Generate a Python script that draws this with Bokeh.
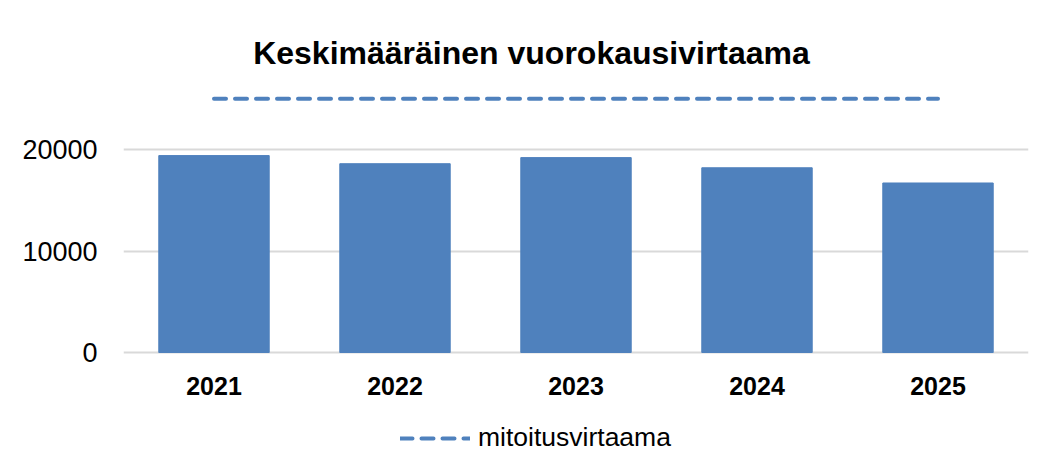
from bokeh.plotting import figure
from bokeh.models import Range1d, FactorRange, FixedTicker, Label, Legend, LegendItem, NumeralTickFormatter
from bokeh.core.properties import value
from bokeh.embed import file_html
from bokeh.resources import INLINE

years = ["2021", "2022", "2023", "2024", "2025"]
flow = [19400, 18600, 19200, 18200, 16700]
design_flow = [25000, 25000, 25000, 25000, 25000]
y_ticks = [0, 10000, 20000]
title_text = "Keskimääräinen vuorokausivirtaama"
legend_label = "mitoitusvirtaama"

BLUE = "#4F81BD"
FONT = "Liberation Sans"

px_per_unit = 101.5 / 10000.0
frame_left, frame_right = 123, 1028
frame_top, zero_y, frame_bottom = 0, 352, 465

p = figure(
    width=1044, height=465,
    x_range=FactorRange(*years),
    y_range=Range1d(-(frame_bottom - zero_y) / px_per_unit, (zero_y - frame_top) / px_per_unit),
    output_backend="svg", toolbar_location=None,
    min_border_left=frame_left, min_border_right=1044 - frame_right,
    min_border_top=0, min_border_bottom=0,
)
p.outline_line_color = None
p.background_fill_color = "white"
p.border_fill_color = "white"

p.vbar(x=years, top=flow, width=0.61, fill_color=BLUE, line_color=BLUE)
r_line = p.line(x=years, y=design_flow, line_color=BLUE, line_width=4,
                line_dash="12 9", line_cap="round")

# category labels below the zero line
p.text(x=years, y=[-(385 - zero_y) / px_per_unit] * len(years), text=years,
       text_font=value(FONT), text_font_size="25px", text_font_style="bold",
       text_align="center", text_baseline="middle", text_color="#000000")

p.xaxis.visible = False

p.yaxis.ticker = FixedTicker(ticks=y_ticks)
p.yaxis.formatter = NumeralTickFormatter(format="0")
p.yaxis.axis_line_color = None
p.yaxis.major_tick_line_color = None
p.yaxis.minor_tick_line_color = None
p.yaxis.major_label_text_font = FONT
p.yaxis.major_label_text_font_size = "27px"
p.yaxis.major_label_text_color = "#000000"
p.yaxis.major_label_standoff = 20

p.xgrid.grid_line_color = None
p.ygrid.ticker = FixedTicker(ticks=y_ticks)
p.ygrid.grid_line_color = "#d9d9d9"
p.ygrid.grid_line_width = 2

title = Label(x=(531 - frame_left) / (frame_right - frame_left) * 5, y=(zero_y - 52) / px_per_unit,
              text=title_text,
              text_font=FONT, text_font_size="32px", text_font_style="bold",
              text_align="center", text_baseline="alphabetic", text_color="#000000")
p.add_layout(title)

legend = Legend(items=[LegendItem(label=legend_label, renderers=[r_line])],
                location=(277, 12), orientation="horizontal",
                glyph_width=70, glyph_height=20, label_standoff=8,
                label_text_font=FONT, label_text_font_size="26.5px", label_text_color="#000000",
                border_line_color=None, background_fill_alpha=0, padding=0, margin=0)
p.add_layout(legend)

open("out.html", "w").write(file_html(p, INLINE))
